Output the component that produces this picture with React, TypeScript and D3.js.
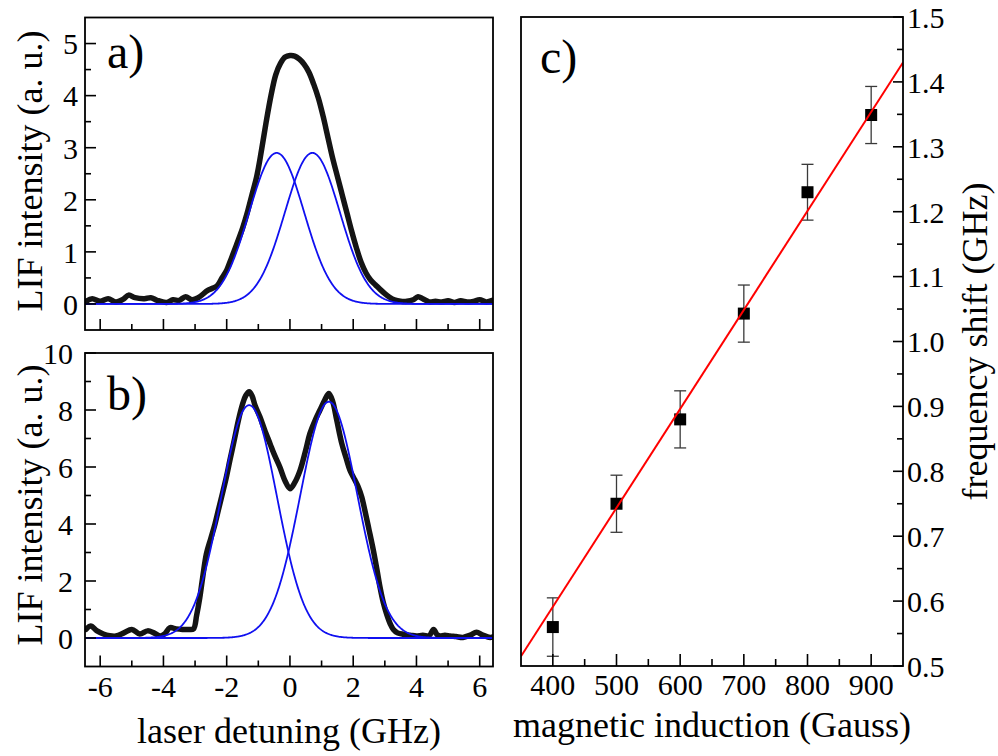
import React from 'react';
import * as d3 from 'd3';

// ---- Panel a: measured LIF spectrum (laser detuning GHz, intensity a.u.)
const detuningA = [-6.45, -6.25, -6.0, -5.75, -5.5, -5.25, -5.1, -4.9, -4.6, -4.4, -4.2, -3.9, -3.7, -3.5, -3.3, -3.1, -2.9, -2.6, -2.45, -2.3, -2.15, -2.0, -1.85, -1.7, -1.5, -1.35, -1.2, -1.05, -0.9, -0.75, -0.6, -0.45, -0.3, -0.15, 0, 0.15, 0.3, 0.45, 0.6, 0.75, 0.9, 1.05, 1.2, 1.35, 1.5, 1.65, 1.8, 1.95, 2.1, 2.25, 2.4, 2.55, 2.7, 2.85, 3.0, 3.15, 3.3, 3.5, 3.7, 3.9, 4.05, 4.2, 4.4, 4.6, 4.8, 5.0, 5.2, 5.4, 5.6, 5.8, 6.0, 6.2, 6.4];
const intensityA = [0.05, 0.1, 0.05, 0.1, 0.04, 0.1, 0.17, 0.12, 0.1, 0.12, 0.07, 0.03, 0.08, 0.07, 0.14, 0.08, 0.12, 0.26, 0.3, 0.35, 0.5, 0.65, 0.88, 1.12, 1.45, 1.75, 2.1, 2.45, 2.95, 3.5, 4.0, 4.4, 4.62, 4.74, 4.77, 4.76, 4.7, 4.6, 4.45, 4.22, 3.95, 3.6, 3.2, 2.8, 2.45, 2.1, 1.75, 1.4, 1.08, 0.8, 0.6, 0.46, 0.37, 0.28, 0.2, 0.13, 0.08, 0.05, 0.05, 0.08, 0.14, 0.1, 0.04, 0.05, 0.04, 0.06, 0.03, 0.06, 0.04, 0.05, 0.08, 0.04, 0.07];
// Gaussian fit components of panel a
const fitAmpA = [2.9, 2.9];
const fitCenterA = [-0.42, 0.71];
const fitSigmaA = [0.87, 0.87];

// ---- Panel b
const detuningB = [-6.45, -6.3, -6.1, -5.9, -5.7, -5.5, -5.25, -5.0, -4.75, -4.5, -4.3, -4.1, -3.95, -3.8, -3.6, -3.4, -3.2, -3.05, -2.95, -2.85, -2.75, -2.64, -2.5, -2.37, -2.25, -2.11, -2.0, -1.9, -1.75, -1.63, -1.5, -1.4, -1.29, -1.2, -1.1, -0.95, -0.8, -0.63, -0.5, -0.32, -0.15, 0, 0.15, 0.32, 0.5, 0.63, 0.8, 0.95, 1.1, 1.23, 1.35, 1.48, 1.64, 1.78, 1.9, 2.05, 2.16, 2.27, 2.37, 2.5, 2.64, 2.75, 2.85, 2.95, 3.06, 3.17, 3.27, 3.4, 3.59, 3.8, 4.0, 4.2, 4.4, 4.54, 4.65, 4.75, 4.9, 5.06, 5.25, 5.47, 5.7, 5.9, 6.1, 6.33, 6.45];
const intensityB = [0.3, 0.42, 0.25, 0.14, 0.08, 0.07, 0.18, 0.3, 0.14, 0.25, 0.18, 0.07, 0.15, 0.36, 0.32, 0.3, 0.3, 0.32, 0.8, 1.42, 2.2, 2.96, 3.5, 4.0, 4.55, 5.18, 5.7, 6.23, 7.0, 7.64, 8.2, 8.5, 8.64, 8.5, 8.15, 7.76, 7.3, 6.82, 6.45, 6.0, 5.5, 5.24, 5.45, 5.88, 6.6, 7.17, 7.65, 8.0, 8.35, 8.58, 8.3, 7.64, 6.82, 6.3, 5.88, 5.55, 5.3, 4.95, 4.47, 3.8, 3.06, 2.4, 1.77, 1.25, 0.83, 0.5, 0.3, 0.18, 0.13, 0.1, 0.07, 0.1, 0.08, 0.3, 0.12, 0.07, 0.1, 0.07, 0.05, 0.02, 0.1, 0.2, 0.1, 0.02, 0.05];
const fitAmpB = [8.17, 8.29];
const fitCenterB = [-1.29, 1.23];
const fitSigmaB = [0.88, 0.9];

// ---- Panel c: frequency shift vs magnetic induction
const fieldGauss = [400, 500, 600, 700, 800, 900];
const shiftGHz = [0.56, 0.75, 0.88, 1.043, 1.23, 1.349];
const shiftErr = [0.045, 0.044, 0.044, 0.044, 0.043, 0.044];
const fitSlope = 0.001525;
const fitIntercept = -0.0188;

// tick values
const detuningTicks = [-6, -4, -2, 0, 2, 4, 6];
const detuningMinor = [-5, -3, -1, 1, 3, 5];
const yTicksA = [0, 1, 2, 3, 4, 5];
const yMinorA = [0.5, 1.5, 2.5, 3.5, 4.5];
const yTicksB = [0, 2, 4, 6, 8, 10];
const yMinorB = [1, 3, 5, 7, 9];
const fieldTicks = [400, 500, 600, 700, 800, 900];
const fieldMinor = [450, 550, 650, 750, 850];
const shiftTicks = [0.5, 0.6, 0.7, 0.8, 0.9, 1.0, 1.1, 1.2, 1.3, 1.4, 1.5];
const shiftMinor = [0.55, 0.65, 0.75, 0.85, 0.95, 1.05, 1.15, 1.25, 1.35, 1.45];

const FONT = '"Liberation Serif", "Times New Roman", serif';

function gauss(x: number, a: number, c: number, s: number) {
  return a * Math.exp(-((x - c) * (x - c)) / (2 * s * s));
}

type PanelProps = {
  id: string;
  top: number;
  bottom: number;
  yDomain: [number, number];
  xs: number[];
  ys: number[];
  amps: number[];
  centers: number[];
  sigmas: number[];
  yTicks: number[];
  yMinor: number[];
  labelEnd: number;
  label: string;
  labelBaseline: number;
  showXLabels: boolean;
  yTitleCenter: number;
};

const L = 85;
const R = 493;

function SpectrumPanel(p: PanelProps) {
  const x = d3.scaleLinear().domain([-6.48, 6.42]).range([L, R]);
  const y = d3.scaleLinear().domain(p.yDomain).range([p.bottom, p.top]);
  const pts: [number, number][] = p.xs.map((v, i) => [v, p.ys[i]]);
  const dataLine = d3
    .line<[number, number]>()
    .x((d) => x(d[0]))
    .y((d) => y(d[1]))
    .curve(d3.curveCatmullRom.alpha(0.5));
  const sample = d3.range(-6.48, 6.43, 0.02);
  const fitLine = d3
    .line<number>()
    .x((d) => x(d))
    .y((d) => y(d));
  return (
    <g>
      <defs>
        <clipPath id={p.id}>
          <rect x={L} y={p.top} width={R - L} height={p.bottom - p.top} />
        </clipPath>
      </defs>
      <g clipPath={`url(#${p.id})`}>
        <path d={dataLine(pts) || ''} fill="none" stroke="#141414" strokeWidth={5.5} strokeLinejoin="round" strokeLinecap="round" />
        {p.amps.map((a, k) => (
          <path
            key={k}
            d={
              d3
                .line<number>()
                .x((d) => x(d))
                .y((d) => y(gauss(d, a, p.centers[k], p.sigmas[k])))(sample) || ''
            }
            fill="none"
            stroke="#1010f0"
            strokeWidth={1.8}
          />
        ))}
      </g>
      <rect x={L} y={p.top} width={R - L} height={p.bottom - p.top} fill="none" stroke="#000" strokeWidth={1.8} />
      {detuningTicks.map((t) => (
        <line key={'xt' + t} x1={x(t)} x2={x(t)} y1={p.bottom} y2={p.bottom - 11} stroke="#000" strokeWidth={1.6} />
      ))}
      {detuningMinor.map((t) => (
        <line key={'xm' + t} x1={x(t)} x2={x(t)} y1={p.bottom} y2={p.bottom - 6} stroke="#000" strokeWidth={1.6} />
      ))}
      {p.yTicks.map((t) => (
        <line key={'yt' + t} x1={L} x2={L + 11} y1={y(t)} y2={y(t)} stroke="#000" strokeWidth={1.6} />
      ))}
      {p.yMinor.map((t) => (
        <line key={'ym' + t} x1={L} x2={L + 6} y1={y(t)} y2={y(t)} stroke="#000" strokeWidth={1.6} />
      ))}
      {p.yTicks.map((t) => (
        <text key={'yl' + t} x={p.labelEnd} y={y(t)} dy="0.36em" textAnchor="end" fontSize={30} fontFamily={FONT}>
          {t}
        </text>
      ))}
      {p.showXLabels &&
        detuningTicks.map((t) => (
          <text key={'xl' + t} x={x(t)} y={697} textAnchor="middle" fontSize={30} fontFamily={FONT}>
            {t}
          </text>
        ))}
      <text x={107} y={p.labelBaseline} fontSize={48} fontFamily={FONT}>
        {p.label}
      </text>
      <text
        transform={`translate(42,${p.yTitleCenter}) rotate(-90)`}
        textAnchor="middle"
        fontSize={36}
        fontFamily={FONT}
      >
        LIF intensity (a. u.)
      </text>
    </g>
  );
}

function ShiftPanel() {
  const CL = 521;
  const CR = 903;
  const CT = 17;
  const CB = 666;
  const x = d3.scaleLinear().domain([350, 950]).range([CL, CR]);
  const y = d3.scaleLinear().domain([0.5, 1.5]).range([CB, CT]);
  const xd = x.domain();
  const fitPts: [number, number][] = xd.map((b) => [b, fitIntercept + fitSlope * b]);
  const fitPath = d3
    .line<[number, number]>()
    .x((d) => x(d[0]))
    .y((d) => y(d[1]))(fitPts);
  const half = 6;
  const cap = 6;
  return (
    <g>
      <defs>
        <clipPath id="clipC">
          <rect x={CL} y={CT} width={CR - CL} height={CB - CT} />
        </clipPath>
      </defs>
      <g clipPath="url(#clipC)">
        {fieldGauss.map((b, i) => (
          <g key={'e' + b} stroke="#3a3a3a" strokeWidth={1.3}>
            <line x1={x(b)} x2={x(b)} y1={y(shiftGHz[i] - shiftErr[i])} y2={y(shiftGHz[i] + shiftErr[i])} />
            <line x1={x(b) - cap} x2={x(b) + cap} y1={y(shiftGHz[i] - shiftErr[i])} y2={y(shiftGHz[i] - shiftErr[i])} />
            <line x1={x(b) - cap} x2={x(b) + cap} y1={y(shiftGHz[i] + shiftErr[i])} y2={y(shiftGHz[i] + shiftErr[i])} />
          </g>
        ))}
        {fieldGauss.map((b, i) => (
          <rect key={'s' + b} x={x(b) - half} y={y(shiftGHz[i]) - half} width={half * 2} height={half * 2} fill="#000" />
        ))}
        <path d={fitPath || ''} fill="none" stroke="#ff0000" strokeWidth={2} />
      </g>
      <rect x={CL} y={CT} width={CR - CL} height={CB - CT} fill="none" stroke="#000" strokeWidth={1.8} />
      {fieldTicks.map((t) => (
        <line key={'xt' + t} x1={x(t)} x2={x(t)} y1={CB} y2={CB - 12} stroke="#000" strokeWidth={1.6} />
      ))}
      {fieldMinor.map((t) => (
        <line key={'xm' + t} x1={x(t)} x2={x(t)} y1={CB} y2={CB - 7} stroke="#000" strokeWidth={1.6} />
      ))}
      {shiftTicks.map((t) => (
        <line key={'yt' + t} x1={CR} x2={CR - 10} y1={y(t)} y2={y(t)} stroke="#000" strokeWidth={1.6} />
      ))}
      {shiftMinor.map((t) => (
        <line key={'ym' + t} x1={CR} x2={CR - 6} y1={y(t)} y2={y(t)} stroke="#000" strokeWidth={1.6} />
      ))}
      {fieldTicks.map((t) => (
        <text key={'xl' + t} x={x(t)} y={695} textAnchor="middle" fontSize={30} fontFamily={FONT}>
          {t}
        </text>
      ))}
      {shiftTicks.map((t) => (
        <text key={'yl' + t} x={907} y={y(t)} dy="0.36em" textAnchor="start" fontSize={30} fontFamily={FONT}>
          {t.toFixed(1)}
        </text>
      ))}
      <text x={540} y={73} fontSize={48} fontFamily={FONT}>
        c)
      </text>
      <text x={(CL + CR) / 2} y={737} textAnchor="middle" fontSize={36} fontFamily={FONT}>
        magnetic induction (Gauss)
      </text>
      <text transform={`translate(987,${(CT + CB) / 2}) rotate(-90)`} textAnchor="middle" fontSize={36} fontFamily={FONT}>
        frequency shift (GHz)
      </text>
    </g>
  );
}

export default function App() {
  return (
    <svg
      width={998}
      height={756}
      viewBox="0 0 998 756"
      style={{ position: 'absolute', left: 0, top: 0, background: '#fff' }}
    >
      <rect x={0} y={0} width={998} height={756} fill="#fff" />
      <SpectrumPanel
        id="clipA"
        top={17.5}
        bottom={330}
        yDomain={[-0.5, 5.5]}
        xs={detuningA}
        ys={intensityA}
        amps={fitAmpA}
        centers={fitCenterA}
        sigmas={fitSigmaA}
        yTicks={yTicksA}
        yMinor={yMinorA}
        labelEnd={78}
        label="a)"
        labelBaseline={68}
        showXLabels={false}
        yTitleCenter={171}
      />
      <SpectrumPanel
        id="clipB"
        top={353}
        bottom={666.5}
        yDomain={[-1, 10]}
        xs={detuningB}
        ys={intensityB}
        amps={fitAmpB}
        centers={fitCenterB}
        sigmas={fitSigmaB}
        yTicks={yTicksB}
        yMinor={yMinorB}
        labelEnd={73}
        label="b)"
        labelBaseline={410}
        showXLabels={true}
        yTitleCenter={505}
      />
      <ShiftPanel />
      <text x={289} y={743} textAnchor="middle" fontSize={36} fontFamily={FONT}>
        laser detuning (GHz)
      </text>
    </svg>
  );
}
